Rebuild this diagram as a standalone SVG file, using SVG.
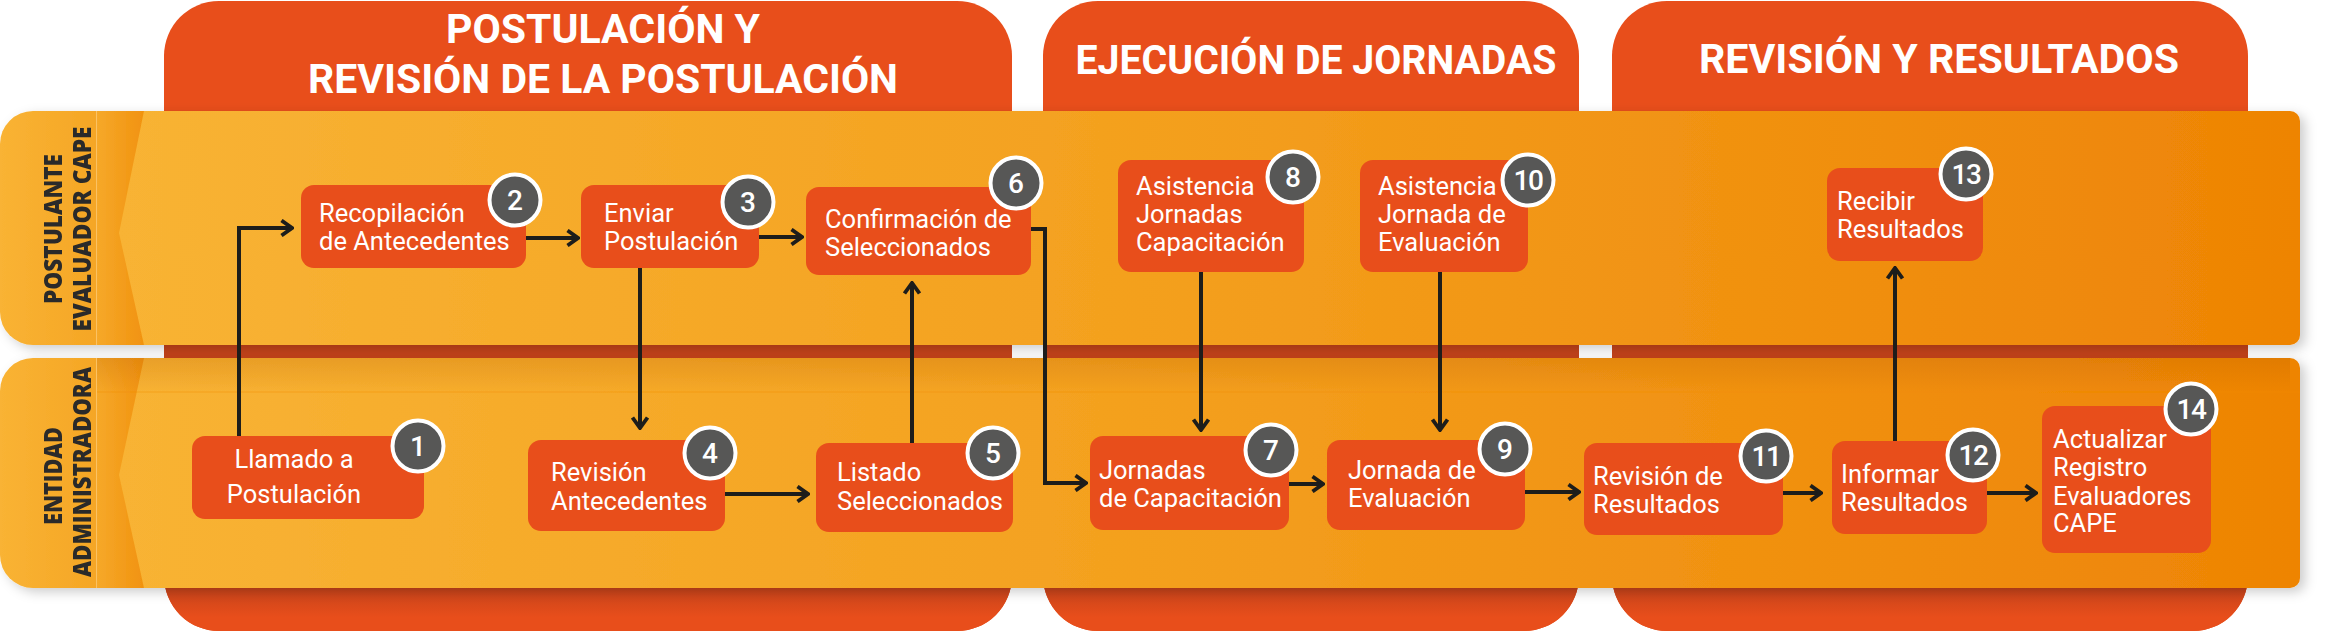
<svg xmlns="http://www.w3.org/2000/svg" width="2350" height="638" viewBox="0 0 2350 638">
<style>
.col{fill:#E84E1B}
.title{font-family:Roboto,"Liberation Sans",sans-serif;font-weight:700;font-size:40px;fill:#fff;text-anchor:middle}
.lbl{font-family:"Open Sans","Liberation Sans",sans-serif;font-weight:800;font-size:24px;fill:#2B2A29;text-anchor:middle}
.box{fill:#E84E1B}
.nt{font-family:Roboto,"Liberation Sans",sans-serif;font-size:25.5px;fill:#fff}
.bd{fill:#575756;stroke:#fff;stroke-width:4}
.bn{font-family:Roboto,"Liberation Sans",sans-serif;font-weight:500;font-size:28px;fill:#fff;text-anchor:middle}
.bn2{letter-spacing:-1.5px}
.cn{fill:none;stroke:#1D1D1B;stroke-width:4;marker-end:url(#ah)}
</style>
<defs>
<marker id="ah" viewBox="0 0 14 18" refX="12" refY="9" markerWidth="14" markerHeight="18" markerUnits="userSpaceOnUse" orient="auto">
<path d="M1.5,1.5 L12,9 L1.5,16.5" fill="none" stroke="#1D1D1B" stroke-width="3.8"/>
</marker>
<linearGradient id="gBody" gradientUnits="userSpaceOnUse" x1="119" y1="0" x2="2300" y2="0">
<stop offset="0" stop-color="#F8B334"/>
<stop offset="0.45" stop-color="#F4A11F"/>
<stop offset="1" stop-color="#EE8404"/>
</linearGradient>
<linearGradient id="gLabel" gradientUnits="userSpaceOnUse" x1="0" y1="0" x2="96" y2="0">
<stop offset="0" stop-color="#F9B334"/>
<stop offset="1" stop-color="#F5A625"/>
</linearGradient>
<linearGradient id="gStrip" gradientUnits="userSpaceOnUse" x1="96" y1="0" x2="145" y2="0">
<stop offset="0" stop-color="#F6A92A"/>
<stop offset="1" stop-color="#F1920F"/>
</linearGradient>
<linearGradient id="gTopShade" x1="0" y1="0" x2="0" y2="1">
<stop offset="0" stop-color="#B35A00" stop-opacity="0.22"/>
<stop offset="1" stop-color="#B35A00" stop-opacity="0"/>
</linearGradient>
<linearGradient id="gBot" x1="0" y1="0" x2="0" y2="1">
<stop offset="0" stop-color="#C4421A"/>
<stop offset="0.7" stop-color="#E84E1B"/>
</linearGradient>
<clipPath id="colClip">
<rect x="164" y="1" width="848" height="630" rx="55"/>
<rect x="1043" y="1" width="536" height="630" rx="55"/>
<rect x="1612" y="1" width="636" height="630" rx="55"/>
</clipPath>
<filter id="sh" x="-2%" y="-10%" width="104%" height="130%">
<feDropShadow dx="5" dy="4" stdDeviation="6" flood-color="#000" flood-opacity="0.2"/>
</filter>
</defs>

<rect width="2350" height="638" fill="#fff"/>

<g id="phases">
<g id="phase-1">
<rect class="col" x="164" y="1" width="848" height="630" rx="55"/>
<text class="title" x="603" y="43" textLength="314" lengthAdjust="spacingAndGlyphs">POSTULACIÓN Y</text>
<text class="title" x="603" y="93" textLength="590" lengthAdjust="spacingAndGlyphs">REVISIÓN DE LA POSTULACIÓN</text>
</g>
<g id="phase-2">
<rect class="col" x="1043" y="1" width="536" height="630" rx="55"/>
<text class="title" x="1316" y="74" textLength="481" lengthAdjust="spacingAndGlyphs">EJECUCIÓN DE JORNADAS</text>
</g>
<g id="phase-3">
<rect class="col" x="1612" y="1" width="636" height="630" rx="55"/>
<text class="title" x="1939" y="73" textLength="480" lengthAdjust="spacingAndGlyphs">REVISIÓN Y RESULTADOS</text>
</g>
<g clip-path="url(#colClip)">
<rect x="0" y="340" width="2350" height="20" fill="#C5431A"/>
<rect x="0" y="585" width="2350" height="46" fill="url(#gBot)"/>
</g>
</g>

<g id="lane-postulante" filter="url(#sh)">
<path d="M33,111 H96 V345 H33 A33,33 0 0 1 0,312 V144 A33,33 0 0 1 33,111 Z" fill="url(#gLabel)"/>
<rect x="96" y="111" width="50" height="234" fill="url(#gStrip)"/>
<path d="M144,111 H2290 A10,10 0 0 1 2300,121 V335 A10,10 0 0 1 2290,345 H144 L119,233 Z" fill="url(#gBody)"/>
<line x1="96.5" y1="111" x2="96.5" y2="345" stroke="#FBC263" stroke-width="1"/>
<text class="lbl" transform="translate(62,229) rotate(-90)" textLength="150" lengthAdjust="spacingAndGlyphs">POSTULANTE</text>
<text class="lbl" transform="translate(91,229) rotate(-90)" textLength="205" lengthAdjust="spacingAndGlyphs">EVALUADOR CAPE</text>
</g>

<g id="lane-entidad" filter="url(#sh)">
<path d="M33,358 H96 V588 H33 A33,33 0 0 1 0,555 V391 A33,33 0 0 1 33,358 Z" fill="url(#gLabel)"/>
<rect x="96" y="358" width="50" height="230" fill="url(#gStrip)"/>
<path d="M144,358 H2290 A10,10 0 0 1 2300,368 V578 A10,10 0 0 1 2290,588 H144 L119,475 Z" fill="url(#gBody)"/>
<rect x="96" y="358" width="2194" height="34" fill="url(#gTopShade)"/>
<line x1="96" y1="392" x2="2300" y2="392" stroke="#F08C00" stroke-opacity="0.45" stroke-width="1.2"/>
<line x1="96.5" y1="358" x2="96.5" y2="588" stroke="#FBC263" stroke-width="1"/>
<text class="lbl" transform="translate(62,476) rotate(-90)" textLength="98" lengthAdjust="spacingAndGlyphs">ENTIDAD</text>
<text class="lbl" transform="translate(91,472) rotate(-90)" textLength="210" lengthAdjust="spacingAndGlyphs">ADMINISTRADORA</text>
</g>

<g id="connectors">
<path class="cn" d="M239,436 V228 H292"/>
<path class="cn" d="M526,238 H578"/>
<path class="cn" d="M759,237 H802"/>
<path class="cn" d="M640,268 V428"/>
<path class="cn" d="M725,494 H808"/>
<path class="cn" d="M912,443 V283"/>
<path class="cn" d="M1031,229 H1045 V483 H1086"/>
<path class="cn" d="M1201,272 V430"/>
<path class="cn" d="M1289,484 H1323"/>
<path class="cn" d="M1440,272 V430"/>
<path class="cn" d="M1525,492 H1579"/>
<path class="cn" d="M1783,493 H1821"/>
<path class="cn" d="M1895,441 V268"/>
<path class="cn" d="M1987,493 H2036"/>
</g>

<g id="node-1">
<rect class="box" x="192" y="436" width="232" height="83" rx="13"/>
<text class="nt" x="294" y="468" text-anchor="middle">Llamado a</text>
<text class="nt" x="294" y="503" text-anchor="middle">Postulación</text>
<circle class="bd" cx="418" cy="446" r="25.5"/>
<text class="bn" x="418" y="456">1</text>
</g>
<g id="node-2">
<rect class="box" x="301" y="185" width="225" height="83" rx="13"/>
<text class="nt" x="319" y="222">Recopilación</text>
<text class="nt" x="319" y="250">de Antecedentes</text>
<circle class="bd" cx="515" cy="200" r="25.5"/>
<text class="bn" x="515" y="210">2</text>
</g>
<g id="node-3">
<rect class="box" x="581" y="185" width="178" height="83" rx="13"/>
<text class="nt" x="604" y="222">Enviar</text>
<text class="nt" x="604" y="250">Postulación</text>
<circle class="bd" cx="748" cy="202" r="25.5"/>
<text class="bn" x="748" y="212">3</text>
</g>
<g id="node-4">
<rect class="box" x="528" y="440" width="197" height="91" rx="13"/>
<text class="nt" x="551" y="481">Revisión</text>
<text class="nt" x="551" y="510">Antecedentes</text>
<circle class="bd" cx="710" cy="453" r="25.5"/>
<text class="bn" x="710" y="463">4</text>
</g>
<g id="node-5">
<rect class="box" x="816" y="443" width="197" height="89" rx="13"/>
<text class="nt" x="837" y="481">Listado</text>
<text class="nt" x="837" y="510">Seleccionados</text>
<circle class="bd" cx="993" cy="453" r="25.5"/>
<text class="bn" x="993" y="463">5</text>
</g>
<g id="node-6">
<rect class="box" x="806" y="187" width="225" height="88" rx="13"/>
<text class="nt" x="825" y="228">Confirmación de</text>
<text class="nt" x="825" y="256">Seleccionados</text>
<circle class="bd" cx="1016" cy="183" r="25.5"/>
<text class="bn" x="1016" y="193">6</text>
</g>
<g id="node-7">
<rect class="box" x="1090" y="436" width="199" height="94" rx="13"/>
<text class="nt" x="1099" y="479">Jornadas</text>
<text class="nt" x="1099" y="507">de Capacitación</text>
<circle class="bd" cx="1271" cy="450" r="25.5"/>
<text class="bn" x="1271" y="460">7</text>
</g>
<g id="node-8">
<rect class="box" x="1118" y="160" width="186" height="112" rx="13"/>
<text class="nt" x="1136" y="195">Asistencia</text>
<text class="nt" x="1136" y="223">Jornadas</text>
<text class="nt" x="1136" y="251">Capacitación</text>
<circle class="bd" cx="1293" cy="177" r="25.5"/>
<text class="bn" x="1293" y="187">8</text>
</g>
<g id="node-9">
<rect class="box" x="1327" y="440" width="198" height="90" rx="13"/>
<text class="nt" x="1348" y="479">Jornada de</text>
<text class="nt" x="1348" y="507">Evaluación</text>
<circle class="bd" cx="1505" cy="449" r="25.5"/>
<text class="bn" x="1505" y="459">9</text>
</g>
<g id="node-10">
<rect class="box" x="1360" y="160" width="168" height="112" rx="13"/>
<text class="nt" x="1378" y="195">Asistencia</text>
<text class="nt" x="1378" y="223">Jornada de</text>
<text class="nt" x="1378" y="251">Evaluación</text>
<circle class="bd" cx="1528" cy="180" r="25.5"/>
<text class="bn bn2" x="1528" y="190">10</text>
</g>
<g id="node-11">
<rect class="box" x="1584" y="443" width="199" height="92" rx="13"/>
<text class="nt" x="1593" y="485">Revisión de</text>
<text class="nt" x="1593" y="513">Resultados</text>
<circle class="bd" cx="1766" cy="456" r="25.5"/>
<text class="bn bn2" x="1766" y="466">11</text>
</g>
<g id="node-12">
<rect class="box" x="1832" y="441" width="155" height="93" rx="13"/>
<text class="nt" x="1841" y="483">Informar</text>
<text class="nt" x="1841" y="511">Resultados</text>
<circle class="bd" cx="1973" cy="455" r="25.5"/>
<text class="bn bn2" x="1973" y="465">12</text>
</g>
<g id="node-13">
<rect class="box" x="1827" y="168" width="156" height="93" rx="13"/>
<text class="nt" x="1837" y="210">Recibir</text>
<text class="nt" x="1837" y="238">Resultados</text>
<circle class="bd" cx="1966" cy="174" r="25.5"/>
<text class="bn bn2" x="1966" y="184">13</text>
</g>
<g id="node-14">
<rect class="box" x="2042" y="406" width="169" height="147" rx="13"/>
<text class="nt" x="2053" y="448">Actualizar</text>
<text class="nt" x="2053" y="476">Registro</text>
<text class="nt" x="2053" y="505">Evaluadores</text>
<text class="nt" x="2053" y="532">CAPE</text>
<circle class="bd" cx="2191" cy="409" r="25.5"/>
<text class="bn bn2" x="2191" y="419">14</text>
</g>
</svg>
